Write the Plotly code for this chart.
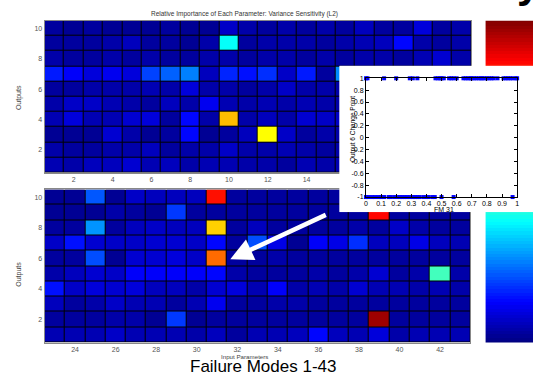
import plotly.graph_objects as go

W, H = 535, 377

# ---- data -------------------------------------------------------------
outputs = list(range(1, 11))
params_a = list(range(1, 23))     # input parameters 1-22
params_b = list(range(23, 44))    # input parameters 23-43

# sensitivity rows listed from output 10 (top) down to output 1
sens_a_top_down = [
    [0.03, 0.02, 0.03, 0.02, 0.02, 0.02, 0.03, 0.02, 0.02, 0.07, 0.04, 0.03, 0.04, 0.03, 0.04, 0.03, 0.06, 0.03, 0.03, 0.09, 0.03, 0.04],
    [0.03, 0.03, 0.03, 0.04, 0.06, 0.03, 0.03, 0.02, 0.04, 0.38, 0.03, 0.04, 0.04, 0.04, 0.03, 0.04, 0.05, 0.06, 0.13, 0.04, 0.03, 0.04],
    [0.04, 0.03, 0.03, 0.04, 0.03, 0.04, 0.03, 0.03, 0.04, 0.04, 0.03, 0.04, 0.04, 0.03, 0.04, 0.03, 0.04, 0.04, 0.03, 0.05, 0.08, 0.04],
    [0.15, 0.12, 0.09, 0.11, 0.09, 0.19, 0.22, 0.25, 0.06, 0.16, 0.14, 0.17, 0.07, 0.15, 0.03, 0.26, 0.05, 0.04, 0.06, 0.05, 0.04, 0.05],
    [0.03, 0.03, 0.04, 0.04, 0.04, 0.05, 0.04, 0.09, 0.04, 0.04, 0.03, 0.04, 0.07, 0.04, 0.04, 0.04, 0.04, 0.03, 0.05, 0.04, 0.03, 0.04],
    [0.04, 0.07, 0.07, 0.05, 0.04, 0.03, 0.06, 0.04, 0.11, 0.05, 0.04, 0.05, 0.04, 0.05, 0.04, 0.04, 0.03, 0.04, 0.04, 0.05, 0.04, 0.03],
    [0.05, 0.09, 0.05, 0.05, 0.08, 0.09, 0.03, 0.13, 0.04, 0.69, 0.04, 0.06, 0.04, 0.08, 0.07, 0.07, 0.04, 0.05, 0.04, 0.04, 0.05, 0.04],
    [0.02, 0.02, 0.02, 0.08, 0.04, 0.02, 0.03, 0.13, 0.02, 0.03, 0.06, 0.625, 0.07, 0.03, 0.04, 0.04, 0.03, 0.04, 0.03, 0.04, 0.03, 0.04],
    [0.04, 0.03, 0.03, 0.04, 0.04, 0.06, 0.03, 0.04, 0.04, 0.07, 0.04, 0.04, 0.05, 0.04, 0.03, 0.04, 0.04, 0.03, 0.04, 0.05, 0.04, 0.03],
    [0.05, 0.04, 0.06, 0.06, 0.08, 0.05, 0.06, 0.04, 0.05, 0.05, 0.04, 0.04, 0.03, 0.05, 0.04, 0.05, 0.04, 0.05, 0.04, 0.04, 0.05, 0.04],
]
sens_b_top_down = [
    [0.02, 0.02, 0.21, 0.02, 0.07, 0.06, 0.06, 0.06, 0.86, 0.03, 0.03, 0.03, 0.03, 0.03, 0.03, 0.04, 0.03, 0.04, 0.03, 0.03, 0.03],
    [0.02, 0.02, 0.02, 0.04, 0.03, 0.02, 0.18, 0.03, 0.03, 0.03, 0.03, 0.03, 0.03, 0.03, 0.03, 0.03, 0.87, 0.03, 0.03, 0.03, 0.03],
    [0.03, 0.03, 0.27, 0.03, 0.06, 0.07, 0.06, 0.06, 0.67, 0.03, 0.06, 0.03, 0.03, 0.03, 0.03, 0.04, 0.03, 0.07, 0.04, 0.03, 0.03],
    [0.07, 0.14, 0.08, 0.07, 0.07, 0.08, 0.08, 0.07, 0.13, 0.03, 0.20, 0.10, 0.02, 0.12, 0.10, 0.17, 0.06, 0.06, 0.10, 0.06, 0.05],
    [0.03, 0.03, 0.20, 0.02, 0.08, 0.08, 0.09, 0.07, 0.77, 0.03, 0.03, 0.04, 0.03, 0.03, 0.03, 0.03, 0.03, 0.03, 0.03, 0.03, 0.03],
    [0.04, 0.06, 0.08, 0.07, 0.12, 0.12, 0.12, 0.12, 0.13, 0.04, 0.03, 0.03, 0.03, 0.04, 0.03, 0.04, 0.08, 0.03, 0.04, 0.44, 0.04],
    [0.14, 0.07, 0.09, 0.08, 0.09, 0.06, 0.06, 0.04, 0.08, 0.09, 0.05, 0.12, 0.04, 0.05, 0.04, 0.08, 0.05, 0.05, 0.04, 0.05, 0.04],
    [0.06, 0.03, 0.04, 0.07, 0.05, 0.05, 0.03, 0.05, 0.11, 0.03, 0.03, 0.04, 0.04, 0.03, 0.03, 0.03, 0.03, 0.03, 0.03, 0.03, 0.03],
    [0.03, 0.03, 0.03, 0.04, 0.04, 0.02, 0.18, 0.02, 0.03, 0.03, 0.03, 0.03, 0.03, 0.03, 0.03, 0.03, 0.97, 0.03, 0.03, 0.03, 0.03],
    [0.05, 0.05, 0.05, 0.07, 0.05, 0.05, 0.05, 0.04, 0.06, 0.03, 0.05, 0.05, 0.06, 0.13, 0.06, 0.05, 0.09, 0.04, 0.05, 0.05, 0.05],
]

# FM 31 samples split by the change point of output 6
fm31_high = [0.0, 0.01, 0.12, 0.2, 0.29, 0.31, 0.34, 0.46, 0.475, 0.49, 0.5, 0.515,
             0.55, 0.565, 0.58, 0.6, 0.645, 0.66, 0.675, 0.69, 0.7, 0.715, 0.73,
             0.745, 0.76, 0.77, 0.785, 0.8, 0.815, 0.83, 0.845, 0.87, 0.91, 0.925,
             0.94, 0.955, 0.97, 0.99, 1.0]
fm31_low = [0.0, 0.015, 0.04, 0.06, 0.085, 0.1, 0.12, 0.15, 0.165, 0.19, 0.21,
            0.225, 0.24, 0.255, 0.27, 0.29, 0.31, 0.325, 0.34, 0.355, 0.38, 0.4,
            0.415, 0.44, 0.455, 0.5, 0.58, 0.97]
change_high = [1] * len(fm31_high)
change_low = [-1] * len(fm31_low)

# colour ramp for the scale bar
ramp_levels = [i / 100 for i in range(101)]

JET = [[0.0, "#000080"], [0.125, "#0000ff"], [0.375, "#00ffff"],
       [0.625, "#ffff00"], [0.875, "#ff0000"], [1.0, "#800000"]]
BLACK = [[0, "black"], [1, "black"]]
WHITE = [[0, "white"], [1, "white"]]
FONT = "Liberation Sans, Arial, sans-serif"


def px(x):
    return x / W


def py(y):
    return 1 - y / H


sens_a = sens_a_top_down[::-1]
sens_b = sens_b_top_down[::-1]

fig = go.Figure()

# top heatmap (x/y): black backdrop so the 1px gaps read as cell edges
fig.add_trace(go.Heatmap(z=[[0]], x=[0.5, 22.5], y=[0.5, 10.5], colorscale=BLACK,
                         showscale=False, hoverinfo="skip", xaxis="x", yaxis="y"))
fig.add_trace(go.Heatmap(z=sens_a, x=params_a, y=outputs, colorscale=JET, zmin=0, zmax=1,
                         xgap=1, ygap=1, showscale=False, xaxis="x", yaxis="y"))
# bottom heatmap (x2/y2)
fig.add_trace(go.Heatmap(z=[[0]], x=[22.5, 43.5], y=[0.5, 10.5], colorscale=BLACK,
                         showscale=False, hoverinfo="skip", xaxis="x2", yaxis="y2"))
fig.add_trace(go.Heatmap(z=sens_b, x=params_b, y=outputs, colorscale=JET, zmin=0, zmax=1,
                         xgap=1, ygap=1, showscale=False, xaxis="x2", yaxis="y2"))
# colour scale bar (x3/y3)
fig.add_trace(go.Heatmap(z=[[v] for v in ramp_levels], x=[0], y=ramp_levels,
                         colorscale=JET, zmin=0, zmax=1, showscale=False,
                         hoverinfo="skip", xaxis="x3", yaxis="y3"))
# white panel behind the inset (x4/y4)
fig.add_trace(go.Heatmap(z=[[0]], x=[0, 1], y=[0, 1], colorscale=WHITE, showscale=False,
                         hoverinfo="skip", xaxis="x4", yaxis="y4"))
# inset scatter (x5/y5)
fig.add_trace(go.Scatter(x=fm31_high, y=change_high, mode="markers",
                         marker=dict(symbol="square", size=4, color="#0000ff"),
                         cliponaxis=False, xaxis="x5", yaxis="y5"))
fig.add_trace(go.Scatter(x=fm31_low, y=change_low, mode="markers",
                         marker=dict(symbol="square", size=4, color="#0000ff"),
                         cliponaxis=False, xaxis="x5", yaxis="y5"))

tickfont = dict(family=FONT, size=7, color="#555")
hm_x = dict(showgrid=False, zeroline=False, ticks="", showline=True, mirror=True,
            linecolor="#888", linewidth=1, tickfont=tickfont)
hm_y = dict(showgrid=False, zeroline=False, ticks="", showline=True, mirror=True,
            linecolor="#888", linewidth=1, tickfont=tickfont, range=[0.5, 10.5],
            tickvals=[2, 4, 6, 8, 10])
hidden = dict(visible=False, showgrid=False, zeroline=False, fixedrange=True)
inset_font = dict(family=FONT, size=7, color="black")

fig.update_layout(
    width=W, height=H, margin=dict(l=0, r=0, t=0, b=0),
    paper_bgcolor="white", plot_bgcolor="white", showlegend=False,
    font=dict(family=FONT),
    xaxis=dict(hm_x, domain=[px(43), px(473)], range=[0.5, 22.5],
               tickvals=list(range(2, 23, 2)), anchor="y"),
    yaxis=dict(hm_y, domain=[py(172), py(17)], anchor="x"),
    xaxis2=dict(hm_x, domain=[px(43), px(472)], range=[22.5, 43.5],
                tickvals=list(range(24, 43, 2)), anchor="y2"),
    yaxis2=dict(hm_y, domain=[py(345), py(189)], anchor="x2"),
    xaxis3=dict(hidden, domain=[px(487), 1], range=[-0.5, 0.5], anchor="y3"),
    yaxis3=dict(hidden, domain=[py(345), py(17)], range=[0, 1], anchor="x3"),
    xaxis4=dict(hidden, domain=[px(340), 1], range=[0, 1], anchor="y4"),
    yaxis4=dict(hidden, domain=[py(212), py(63)], range=[0, 1], anchor="x4"),
    xaxis5=dict(domain=[px(366.7), px(519)], range=[0, 1], anchor="y5",
                showgrid=False, zeroline=False, showline=True, mirror="ticks",
                linecolor="black", linewidth=1, ticks="inside", ticklen=3,
                tickcolor="black", tickvals=[i / 10 for i in range(11)],
                ticktext=["0", "0.1", "0.2", "0.3", "0.4", "0.5", "0.6", "0.7", "0.8", "0.9", "1"],
                tickfont=inset_font),
    yaxis5=dict(domain=[py(196.7), py(75.7)], range=[-1, 1], anchor="x5",
                showgrid=False, zeroline=False, showline=True, mirror="ticks",
                linecolor="black", linewidth=1, ticks="inside", ticklen=3,
                tickcolor="black", tickvals=[-1, -0.8, -0.6, -0.4, -0.2, 0, 0.2, 0.4, 0.6, 0.8, 1],
                ticktext=["-1", "-0.8", "-0.6", "-0.4", "-0.2", "0", "0.2", "0.4", "0.6", "0.8", "1"],
                tickfont=inset_font),
)

small = dict(family=FONT, size=7, color="#444")
annotations = [
    dict(text="Relative Importance of Each Parameter: Variance Sensitivity (L2)",
         x=px(244), y=py(10), font=dict(family=FONT, size=6.5, color="#333")),
    dict(text="Outputs", x=px(17), y=py(95), textangle=-90, font=small),
    dict(text="Outputs", x=px(17), y=py(275), textangle=-90, font=small),
    dict(text="Input Parameters", x=px(244), y=py(359),
         font=dict(family=FONT, size=6.2, color="#444")),
    dict(text="Failure Modes 1-43", x=px(263), y=py(369),
         font=dict(family=FONT, size=17, color="black")),
    dict(text="FM 31", x=px(445), y=py(209), font=inset_font),
    dict(text="Output 6 Change Point", x=px(353), y=py(127), textangle=-90,
         font=dict(family=FONT, size=6.5, color="black")),
    dict(text="<b>y</b>", x=px(531), y=py(-22), font=dict(family=FONT, size=42, color="black")),
]
for a in annotations:
    a.update(xref="paper", yref="paper", showarrow=False,
             xanchor="center", yanchor="middle")

# white pointer onto FM 31 / output 6
annotations.append(dict(text="", x=px(230), y=py(260), xref="paper", yref="paper",
                        ax=97, ay=-45, axref="pixel", ayref="pixel", showarrow=True,
                        arrowhead=2, arrowsize=1.0, arrowwidth=4.5, arrowcolor="white",
                        standoff=0))
fig.update_layout(annotations=annotations)

fig.write_html("out.html")
